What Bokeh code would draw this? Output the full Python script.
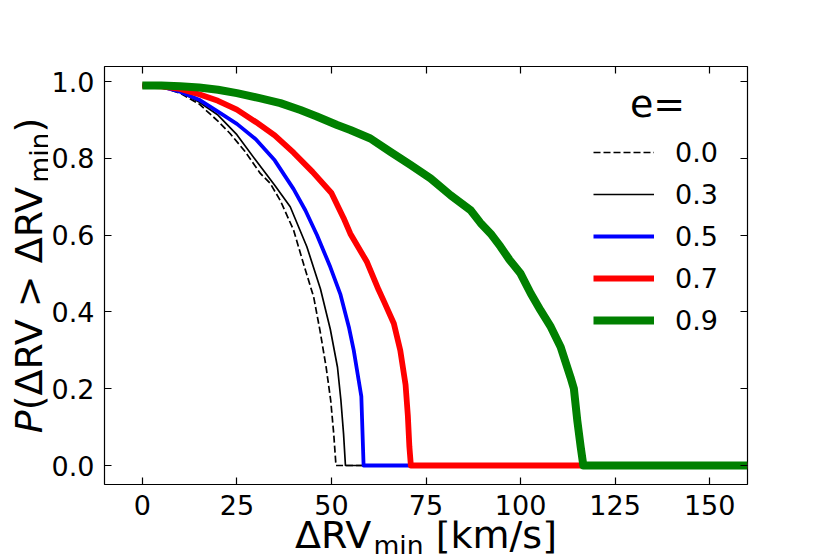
import math
from bokeh.plotting import figure
from bokeh.layouts import row, column
from bokeh.models import (Range1d, LinearAxis, FixedTicker, PrintfTickFormatter,
                          Label, Legend, LegendItem)
from bokeh.embed import file_html
from bokeh.resources import INLINE

# ---------------- data ----------------
ecc_labels = ["0.0", "0.3", "0.5", "0.7", "0.9"]

x_e00 = [0, 5, 10, 15, 20, 23.2, 27, 31.2, 33.8, 36.5, 40, 42.6, 45.3, 47, 48.6, 49.8, 50.6, 51.2, 160]
y_e00 = [0.99, 0.986, 0.97, 0.942, 0.897, 0.865, 0.82, 0.761, 0.735, 0.69, 0.613, 0.526, 0.439, 0.35, 0.256, 0.17, 0.083, 0.0, 0.0]

x_e03 = [0, 5, 10, 15, 20, 25, 30, 35, 39.1, 43.5, 47.1, 49.7, 51.6, 52.5, 53.2, 53.7, 160]
y_e03 = [0.99, 0.987, 0.973, 0.947, 0.913, 0.862, 0.795, 0.73, 0.674, 0.57, 0.46, 0.355, 0.256, 0.17, 0.083, 0.0, 0.0]

x_e05 = [0, 5, 10, 15, 20, 25, 30, 35, 40, 43.1, 46.2, 49.7, 52.4, 54.6, 55.9, 57.2, 57.9, 58.5, 160]
y_e05 = [0.99, 0.987, 0.974, 0.953, 0.922, 0.89, 0.85, 0.795, 0.72, 0.665, 0.6, 0.517, 0.445, 0.361, 0.30, 0.222, 0.18, 0.0, 0.0]

x_e07 = [0, 5, 10, 15, 20, 25, 30, 35, 40, 45, 50, 53.2, 55, 59.4, 62.5, 64, 66.5, 68.2, 69.6, 70.2, 70.6, 71.0, 160]
y_e07 = [0.99, 0.988, 0.981, 0.967, 0.95, 0.927, 0.895, 0.86, 0.815, 0.765, 0.71, 0.645, 0.604, 0.53, 0.457, 0.425, 0.37, 0.30, 0.21, 0.13, 0.05, 0.0, 0.0]

x_e09 = [0, 5, 10, 15, 20, 25, 31, 36.5, 41.8, 46, 51.5, 55, 60.3, 65.6, 70.9, 76.2, 81.5, 86.8, 89.4, 92.1,
         94.7, 97, 100, 102.7, 105.3, 108, 110.6, 113.2, 114.1, 115, 115.9, 116.6, 160]
y_e09 = [0.99, 0.99, 0.988, 0.985, 0.979, 0.97, 0.957, 0.944, 0.926, 0.91, 0.887, 0.874, 0.852, 0.817, 0.783,
         0.748, 0.704, 0.665, 0.632, 0.604, 0.57, 0.537, 0.50, 0.448, 0.404, 0.361, 0.309, 0.23, 0.2, 0.117,
         0.048, 0.0, 0.0]

x_ticks = [0, 25, 50, 75, 100, 125, 150]
y_ticks = [0.0, 0.2, 0.4, 0.6, 0.8, 1.0]

# ---------------- layout ----------------
XMIN, XMAX = -10, 160
YMIN, YMAX = -0.0495, 1.0395
FONT = "DejaVu Sans"
MID = 0.346        # (ascent - descent) / 2 of DejaVu Sans, in em

YW = 48            # width of the strip that holds the y label
MW, MH = 782, 526  # main figure
XH = 34            # height of the strip that holds the x label
OVER = MH + XH - 554   # overlap of the x-label strip with the main figure
FL, FR, FT, FB = 56, 699, 66, 484   # frame in main-figure px

p = figure(width=MW, height=MH, output_backend="svg", toolbar_location=None,
           x_range=Range1d(XMIN, XMAX), y_range=Range1d(YMIN, YMAX),
           min_border_left=FL, min_border_right=MW - FR, min_border_top=FT,
           min_border_bottom=MH - FB, background_fill_color="white",
           border_fill_color="white")
p.grid.visible = False
p.outline_line_color = "black"
p.outline_line_width = 1.2

xb = p.xaxis[0]
yl = p.yaxis[0]
xb.ticker = FixedTicker(ticks=x_ticks)
xb.formatter = PrintfTickFormatter(format="%d")
yl.ticker = FixedTicker(ticks=y_ticks)
yl.formatter = PrintfTickFormatter(format="%.1f")

top = LinearAxis(ticker=FixedTicker(ticks=x_ticks),
                 major_label_overrides={t: "" for t in x_ticks})
right = LinearAxis(ticker=FixedTicker(ticks=y_ticks),
                   major_label_overrides={t: "" for t in y_ticks})
p.add_layout(top, "above")
p.add_layout(right, "right")

for ax in [xb, yl, top, right]:
    ax.axis_line_color = None
    ax.major_tick_in = 7
    ax.major_tick_out = 0
    ax.major_tick_line_width = 1.2
    ax.major_tick_line_color = "black"
    ax.minor_tick_line_color = None
    ax.major_label_text_font = FONT
    ax.major_label_text_font_size = "27px"
    ax.major_label_text_color = "black"
xb.major_label_standoff = 10
yl.major_label_standoff = 10
top.major_label_standoff = 0
right.major_label_standoff = 0

# ---------------- curves ----------------
common = dict(line_join="round")
r0 = p.line(x_e00, y_e00, line_color="black", line_width=1.7, line_dash="7 3", **common)
r1 = p.line(x_e03, y_e03, line_color="black", line_width=1.7, **common)
r2 = p.line(x_e05, y_e05, line_color="blue", line_width=3.8, **common)
r3 = p.line(x_e07, y_e07, line_color="red", line_width=5.8, **common)
r4 = p.line(x_e09, y_e09, line_color="green", line_width=8, **common)

legend = Legend(items=[LegendItem(label=l, renderers=[r]) for l, r in
                       zip(ecc_labels, [r0, r1, r2, r3, r4])],
                location=(489, 143), padding=0, margin=0, spacing=0,
                glyph_width=61, glyph_height=42, label_height=42,
                label_standoff=21, border_line_color=None,
                background_fill_alpha=0, label_text_font=FONT,
                label_text_font_size="27px", label_text_color="black")
p.add_layout(legend, "center")

def dx(px):
    return XMIN + (px - FL) / (FR - FL) * (XMAX - XMIN)

def dy(py):
    return YMIN + (FB - py) / (FB - FT) * (YMAX - YMIN)

# legend title, baseline at image y=117
TS = 38
p.add_layout(Label(x=dx(657 - YW), y=dy(117 - MID * TS), text="e=", text_font=FONT,
                   text_font_size=f"{TS}px", text_align="center",
                   text_baseline="middle", text_color="black"))

# ---------------- axis titles built from pieces ----------------
ADV = {"P": 0.603, "(": 0.390, ")": 0.390, "Δ": 0.684, "R": 0.695, "V": 0.684,
       " ": 0.318, ">": 0.838, "m": 0.974, "i": 0.278, "n": 0.634, "[": 0.390,
       "]": 0.390, "k": 0.579, "/": 0.337, "s": 0.521}

def tw(s, size):
    return sum(ADV[c] for c in s) * size

BIG, SUB = 38, 26.6

def strip(w, h, bl, br, bt, bb, xr, yr):
    f = figure(width=w, height=h, output_backend="svg", toolbar_location=None,
               x_range=Range1d(*xr), y_range=Range1d(*yr),
               x_axis_type=None, y_axis_type=None,
               min_border_left=bl, min_border_right=br,
               min_border_top=bt, min_border_bottom=bb,
               background_fill_alpha=0, border_fill_alpha=0,
               outline_line_color=None)
    f.grid.visible = False
    return f

# y label strip: same vertical borders as the main figure; data y = MH - px
yfig = strip(YW, MH, 0, 0, FT, MH - FB, (0, YW), (MH - FB, MH - FT))
yparts = [("P", BIG, "italic", 0), ("(ΔRV > ΔRV", BIG, "normal", 0),
          ("min", SUB, "normal", 6), (")", BIG, "normal", 0)]
total = sum(tw(t, s) for t, s, _, _ in yparts)
cy = (FT + FB) / 2 + total / 2
basex = 42
for t, s, st, off in yparts:
    yfig.add_layout(Label(x=basex + off - MID * s, y=MH - cy, text=t, text_font=FONT,
                          text_font_size=f"{s}px", text_font_style=st,
                          angle=math.pi / 2, text_align="left",
                          text_baseline="middle", text_color="black"))
    cy -= tw(t, s)

# x label strip: image y from 554-XH to 554; same horizontal borders as the frame
W_ALL = YW + MW
XL, XR = YW + FL, YW + FR
xfig = strip(W_ALL, XH, XL, W_ALL - XR, 0, 0, (XL, XR), (0, XH))
xfig.margin = (-OVER, 0, 0, 0)
xparts = [("ΔRV", BIG, "normal", 0, 0.0), ("min", SUB, "normal", 6.5, 0.0),
          ("[km/s]", BIG, "normal", 0, ADV[" "] * BIG)]
total = sum(tw(t, s) + gap for t, s, _, _, gap in xparts)
cx = (XL + XR) / 2 - total / 2
base = 548
for t, s, st, off, gap in xparts:
    cx += gap
    xfig.add_layout(Label(x=cx, y=554 - (base + off - MID * s), text=t, text_font=FONT,
                          text_font_size=f"{s}px", text_font_style=st,
                          text_align="left", text_baseline="middle",
                          text_color="black"))
    cx += tw(t, s)

layout = column(row(yfig, p, spacing=0), xfig, spacing=0)
open("out.html", "w").write(file_html(layout, INLINE))
